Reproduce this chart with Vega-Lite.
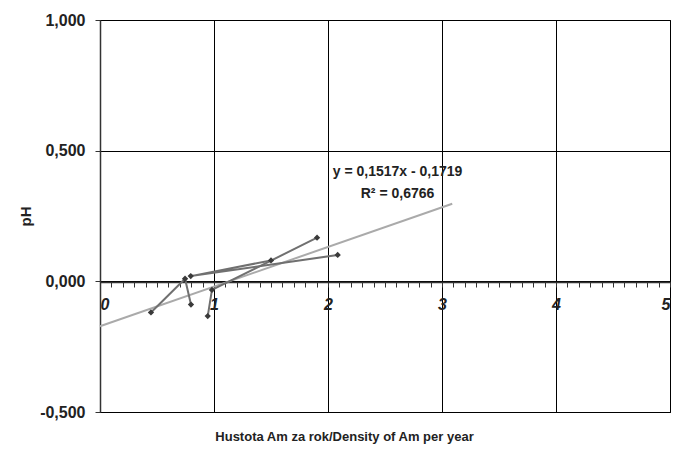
{
  "$schema": "https://vega.github.io/schema/vega-lite/v6.json",
  "width": 570,
  "height": 392,
  "autosize": {"type": "none"},
  "padding": {"left": 100, "top": 20, "right": 3, "bottom": 41},
  "background": "white",
  "config": {
    "view": {"stroke": "#000000", "strokeWidth": 1},
    "font": "Liberation Sans"
  },
  "datasets": {
    "pts": [
      {"x": 0.447, "y": -0.119, "seg": "a", "ord": 1},
      {"x": 0.746, "y": 0.010, "seg": "a", "ord": 2},
      {"x": 0.798, "y": -0.089, "seg": "a", "ord": 3},
      {"x": 0.945, "y": -0.133, "seg": "b", "ord": 1},
      {"x": 0.982, "y": -0.033, "seg": "b", "ord": 2},
      {"x": 1.904, "y": 0.167, "seg": "b", "ord": 3},
      {"x": 1.5, "y": 0.080, "seg": "c", "ord": 1},
      {"x": 0.796, "y": 0.020, "seg": "c", "ord": 2},
      {"x": 2.085, "y": 0.101, "seg": "c", "ord": 3}
    ],
    "trend": [
      {"x": 0, "y": -0.1719},
      {"x": 3.09, "y": 0.297}
    ],
    "notes": [
      {"x": 2.61, "y": 0.418, "t": "y = 0,1517x - 0,1719"},
      {"x": 2.61, "y": 0.333, "t": "R² = 0,6766"}
    ]
  },
  "layer": [
    {
      "data": {"name": "trend"},
      "mark": {"type": "line", "color": "#aaaaaa", "strokeWidth": 2},
      "encoding": {
        "x": {
          "field": "x", "type": "quantitative",
          "scale": {"domain": [0, 5], "nice": false, "zero": false},
          "axis": {"orient": "top", "values": [0, 1, 2, 3, 4, 5], "grid": true, "gridColor": "#000000", "gridOpacity": 1, "gridWidth": 1, "labels": false, "ticks": false, "domain": false, "title": null}
        },
        "y": {
          "field": "y", "type": "quantitative",
          "scale": {"domain": [-0.5, 1.0], "nice": false, "zero": false},
          "axis": {
            "values": [-0.5, 0, 0.5, 1.0],
            "grid": true, "gridColor": "#000000", "gridOpacity": 1, "gridWidth": 1,
            "domainColor": "#333333", "domainWidth": 1.5,
            "tickColor": "#333333", "tickSize": 5, "tickWidth": 1,
            "labelExpr": "(datum.value < 0 ? '-' : '') + replace(format(abs(datum.value), '.3f'), '.', ',')",
            "labelFont": "Liberation Sans", "labelFontWeight": "bold", "labelFontSize": 16, "labelColor": "#222222", "labelPadding": 10,
            "title": "pH", "titleFont": "Liberation Sans", "titleFontWeight": "bold", "titleFontSize": 15, "titleColor": "#222222",
            "titleX": -75, "titleY": 196, "titleAngle": -90, "titleAlign": "center", "titleBaseline": "middle"
          }
        }
      }
    },
    {
      "data": {"name": "pts"},
      "mark": {"type": "line", "color": "#707070", "strokeWidth": 2},
      "encoding": {
        "x": {
          "field": "x", "type": "quantitative",
          "axis": {
            "orient": "bottom", "offset": -130,
            "values": [0, 0.1, 0.2, 0.3, 0.4, 0.5, 0.6, 0.7, 0.8, 0.9, 1, 1.1, 1.2, 1.3, 1.4, 1.5, 1.6, 1.7, 1.8, 1.9, 2, 2.1, 2.2, 2.3, 2.4, 2.5, 2.6, 2.7, 2.8, 2.9, 3, 3.1, 3.2, 3.3, 3.4, 3.5, 3.6, 3.7, 3.8, 3.9, 4, 4.1, 4.2, 4.3, 4.4, 4.5, 4.6, 4.7, 4.8, 4.9, 5],
            "labelExpr": "abs(datum.value - round(datum.value)) < 0.001 ? format(datum.value, 'd') : ''",
            "grid": false,
            "domainColor": "#333333", "domainWidth": 1.5,
            "tickColor": "#333333", "tickSize": 5, "tickWidth": 1,
            "labelFont": "Liberation Sans", "labelFontWeight": "bold", "labelFontStyle": "italic", "labelFontSize": 16, "labelColor": "#222222", "labelPadding": 9,
            "labelOverlap": false,
            "title": "Hustota Am za rok/Density of Am per year",
            "titleFont": "Liberation Sans", "titleFontWeight": "bold", "titleFontSize": 13, "titleColor": "#222222",
            "titleX": 244, "titleY": 154, "titleAlign": "center", "titleBaseline": "middle"
          }
        },
        "y": {"field": "y", "type": "quantitative"},
        "detail": {"field": "seg"},
        "order": {"field": "ord"}
      }
    },
    {
      "data": {"name": "pts"},
      "mark": {"type": "point", "shape": "diamond", "filled": true, "color": "#3a3a3a", "size": 40, "opacity": 1},
      "encoding": {
        "x": {"field": "x", "type": "quantitative", "axis": null},
        "y": {"field": "y", "type": "quantitative"}
      }
    },
    {
      "data": {"name": "notes"},
      "mark": {"type": "text", "font": "Liberation Sans", "fontWeight": "bold", "fontSize": 14, "color": "#222222", "align": "center", "baseline": "middle"},
      "encoding": {
        "x": {"field": "x", "type": "quantitative", "axis": null},
        "y": {"field": "y", "type": "quantitative"},
        "text": {"field": "t"}
      }
    }
  ],
  "resolve": {"axis": {"x": "independent"}}
}
